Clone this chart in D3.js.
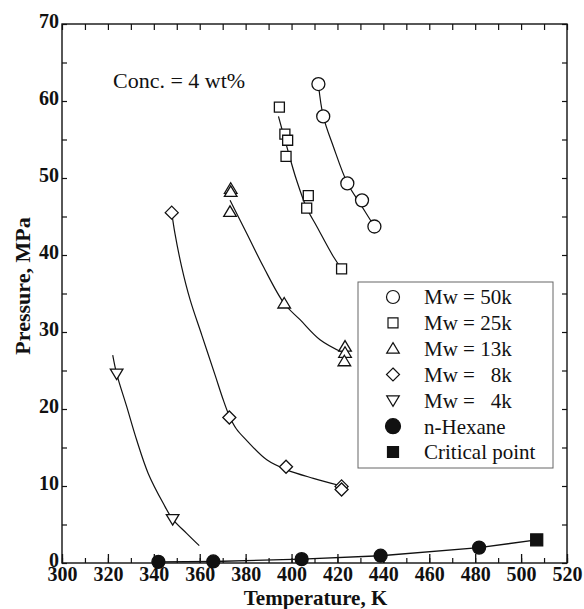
<!DOCTYPE html>
<html>
<head>
<meta charset="utf-8">
<script src="https://cdn.jsdelivr.net/npm/d3@7"></script>
<style>
html,body{margin:0;padding:0;background:#fff;}
svg{display:block;}
svg text{font-family:"Liberation Serif","DejaVu Serif",serif !important;fill:#111;}
.bold{font-weight:bold;}
</style>
</head>
<body>
<svg id="chart" width="584" height="609"></svg>
<script>
// ---- data ----
const xTicks = [300,320,340,360,380,400,420,440,460,480,500,520];
const yTicks = [0,10,20,30,40,50,60,70];

const mw50k = [[411.7,62.2],[413.8,58.0],[424.3,49.3],[430.7,47.1],[436.1,43.7]];
const mw25k = [[394.7,59.2],[397.1,55.7],[398.3,54.9],[397.6,52.8],[407.3,47.7],[406.6,46.1],[421.8,38.2]];
const mw13k = [[373.5,48.6],[373.5,48.2],[373.2,45.6],[396.8,33.7],[423.3,28.1],[423.3,27.3],[423.0,26.2]];
const mw8k  = [[347.8,45.5],[372.9,18.9],[397.6,12.5],[421.8,9.95],[421.8,9.55]];
const mw4k  = [[323.8,24.6],[348.2,5.7]];
const hexane = [[342.0,0.15],[365.9,0.2],[404.4,0.5],[438.8,0.95],[481.7,2.0]];
const critical = [[506.8,3.0]];

// fitted curves as drawn in the picture
const fit50k = [[411.7,62.2],[413.8,58.05],[418.2,54.1],[424.3,49.35],[429.8,46.7],[436.1,43.7]];
const fit25k = [[394.3,58.0],[397.9,54.1],[402.2,49.7],[406.6,46.1],[411.0,43.7],[418.2,39.8],[421.8,38.2]];
const fit13k = [[373.2,47.1],[380.5,42.8],[387.7,38.5],[396.8,33.7],[403.7,31.6],[412.4,29.0],[422.5,27.3]];
const fit8k  = [[347.8,45.5],[349.2,42.8],[352.1,38.5],[355.8,34.2],[360.9,29.6],[366.7,24.4],[370.0,21.4],[372.9,19.1],[376.0,17.4],[380.5,15.9],[389.2,13.4],[397.9,12.1],[409.5,11.0],[421.8,10.0]];
const fit4k  = [[322.1,27.0],[323.8,24.6],[328.2,20.3],[332.5,16.0],[337.6,11.6],[344.1,7.75],[348.2,5.7],[354.3,3.85],[359.8,2.25]];
const fitHex = [[342.0,0.15],[365.9,0.2],[404.4,0.5],[438.8,0.95],[481.7,2.0],[506.8,3.0]];

const legendItems = [
  {label:"Mw = 50k", sym:"circle", fill:false},
  {label:"Mw = 25k", sym:"square", fill:false},
  {label:"Mw = 13k", sym:"triangle", fill:false},
  {label:"Mw =   8k", sym:"diamond", fill:false},
  {label:"Mw =   4k", sym:"down", fill:false},
  {label:"n-Hexane", sym:"circle", fill:true},
  {label:"Critical point", sym:"square", fill:true}
];

// ---- layout ----
const L = 62, R = 567, T = 24, B = 563;
const FONT = '"Liberation Serif","DejaVu Serif",serif';
const svg = d3.select("#chart");
const x = d3.scaleLinear().domain([300,520]).range([L,R]);
const y = d3.scaleLinear().domain([0,70]).range([B,T]);

function symPath(type, s){
  if(type==="circle"){ return d3.symbol(d3.symbolCircle, Math.PI*s*s/4)(); }
  if(type==="square"){ return d3.symbol(d3.symbolSquare, s*s)(); }
  if(type==="diamond"){ const h=s/2; return `M0,${-h}L${h},0L0,${h}L${-h},0Z`; }
  if(type==="triangle"){ const h=s/2; return `M0,${-h}L${h*1.05},${h*0.75}L${-h*1.05},${h*0.75}Z`; }
  if(type==="down"){ const h=s/2; return `M0,${h}L${h*1.05},${-h*0.75}L${-h*1.05},${-h*0.75}Z`; }
}

// ---- axes frame ----
const g = svg.append("g");
g.append("rect").attr("x",L).attr("y",T).attr("width",R-L).attr("height",B-T)
  .attr("fill","none").attr("stroke","#111").attr("stroke-width",1.4);

const xMinor = d3.range(300,521,10);
const yMinor = d3.range(0,71,5);
function styleLabels(a){
  a.attr("font-family",FONT);
  a.selectAll("text").attr("font-size","20px").attr("class","bold").style("font-weight","bold").attr("fill","#111").attr("font-family",FONT);
}
g.append("g").attr("transform",`translate(0,${B})`)
  .call(d3.axisBottom(x).tickValues(xMinor).tickSizeInner(-5).tickSizeOuter(0).tickFormat(""))
  .call(a=>{a.select(".domain").remove(); a.selectAll("line").attr("stroke","#111").attr("stroke-width",1.2);});
g.append("g").attr("transform",`translate(0,${B})`)
  .call(d3.axisBottom(x).tickValues(xTicks).tickSizeInner(-9).tickSizeOuter(0).tickPadding(4).tickFormat(d3.format("d")))
  .call(a=>{a.select(".domain").remove(); a.selectAll("line").attr("stroke","#111").attr("stroke-width",1.3); styleLabels(a);});
g.append("g").attr("transform",`translate(0,${T})`)
  .call(d3.axisTop(x).tickValues(xMinor).tickSizeInner(-6).tickSizeOuter(0).tickFormat(""))
  .call(a=>{a.select(".domain").remove(); a.selectAll("line").attr("stroke","#111").attr("stroke-width",1.2);});
g.append("g").attr("transform",`translate(${L},0)`)
  .call(d3.axisLeft(y).tickValues(yMinor).tickSizeInner(-5).tickSizeOuter(0).tickFormat(""))
  .call(a=>{a.select(".domain").remove(); a.selectAll("line").attr("stroke","#111").attr("stroke-width",1.2);});
g.append("g").attr("transform",`translate(${L},-3)`)
  .call(d3.axisLeft(y).tickValues(yTicks).tickSize(0).tickPadding(3).tickFormat(d3.format("d")))
  .call(a=>{a.select(".domain").remove(); styleLabels(a);});
g.append("g").attr("transform",`translate(${R},0)`)
  .call(d3.axisRight(y).tickValues(yMinor).tickSizeInner(-5).tickSizeOuter(0).tickFormat(""))
  .call(a=>{a.select(".domain").remove(); a.selectAll("line").attr("stroke","#111").attr("stroke-width",1.2);});

// axis titles
svg.append("text").attr("x",(L+R)/2+1).attr("y",604.5).attr("text-anchor","middle").attr("font-family",FONT)
  .attr("font-size","21px").style("font-weight","bold").text("Temperature, K");
svg.append("text").attr("transform",`translate(30,${286}) rotate(-90)`).attr("text-anchor","middle").attr("font-family",FONT)
  .attr("font-size","22px").style("font-weight","bold").text("Pressure, MPa");

// annotation
svg.append("text").attr("x",113).attr("y",88).attr("font-size","22px").attr("font-family",FONT).text("Conc. = 4 wt%");

// ---- fitted curves ----
const line = d3.line().x(d=>x(d[0])).y(d=>y(d[1])).curve(d3.curveCatmullRom.alpha(0.5));
[fit50k,fit25k,fit13k,fit8k,fit4k].forEach(c=>{
  svg.append("path").attr("d",line(c)).attr("fill","none").attr("stroke","#111").attr("stroke-width",1.2);
});
svg.append("path").attr("d",d3.line().x(d=>x(d[0])).y(d=>y(d[1]))(fitHex))
  .attr("fill","none").attr("stroke","#111").attr("stroke-width",1.4);

// ---- markers ----
function drawPts(data, type, size, filled){
  svg.append("g").selectAll("path").data(data).join("path")
    .attr("transform",d=>`translate(${x(d[0])},${y(d[1])})`)
    .attr("d",symPath(type,size))
    .attr("fill",filled?"#111":"#fff").attr("stroke","#111").attr("stroke-width",1.3);
}
drawPts(mw50k,"circle",13,false);
drawPts(mw25k,"square",10,false);
drawPts(mw13k,"triangle",12,false);
drawPts(mw8k,"diamond",13,false);
drawPts(mw4k,"down",12,false);
drawPts(hexane,"circle",13,true);
drawPts(critical,"square",12,true);

// ---- legend ----
const lg = svg.append("g");
lg.append("rect").attr("x",358).attr("y",282).attr("width",195).attr("height",186)
  .attr("fill","#fff").attr("stroke","#666").attr("stroke-width",1);
const rowY = d3.scaleLinear().domain([0,6]).range([297,452]);
const sizes = {circle:13,square:10,triangle:12,diamond:13,down:12};
legendItems.forEach((it,i)=>{
  const cy = rowY(i);
  lg.append("path").attr("transform",`translate(393,${cy})`)
    .attr("d",symPath(it.sym, it.fill?(it.sym==="circle"?15:11):sizes[it.sym]))
    .attr("fill",it.fill?"#111":"#fff").attr("stroke","#111").attr("stroke-width",1.2);
  lg.append("text").attr("x",424).attr("y",cy).attr("dy","0.35em").attr("font-size","21px").attr("font-family",FONT)
    .attr("xml:space","preserve").style("white-space","pre").text(it.label);
});
</script>
</body>
</html>
